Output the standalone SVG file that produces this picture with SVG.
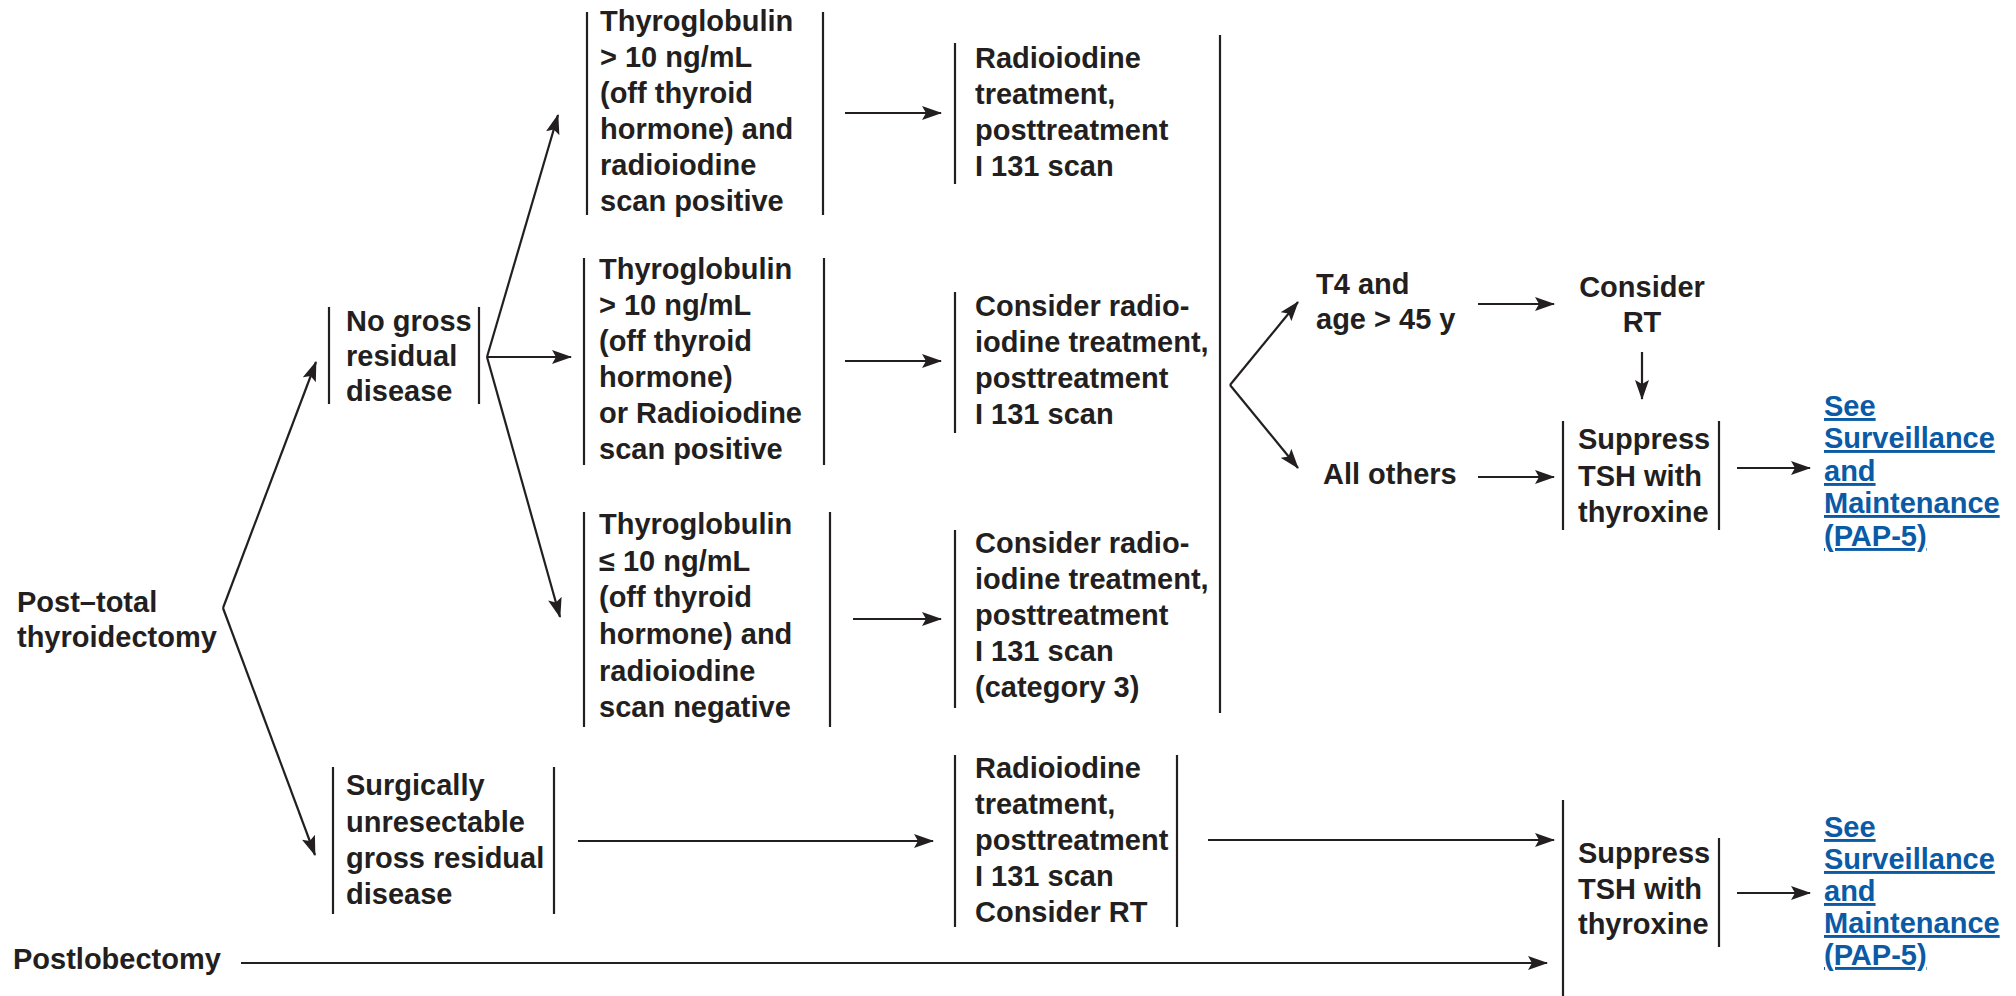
<svg xmlns="http://www.w3.org/2000/svg" width="2016" height="996" viewBox="0 0 2016 996">
  <style>
    text { font-family: "Liberation Sans", Arial, Helvetica, sans-serif; font-weight: bold; font-size: 29px; fill: #231f20; }
    .link { fill: #0a5aa6; text-decoration: underline; }
    .bar { stroke: #231f20; stroke-width: 2.2; fill: none; }
    .edge { stroke: #231f20; stroke-width: 2.2; fill: none; marker-end: url(#head); }
    .plain { stroke: #231f20; stroke-width: 2.2; fill: none; }
  </style>
  <defs>
    <marker id="head" markerUnits="userSpaceOnUse" markerWidth="20" markerHeight="14" refX="19" refY="7" orient="auto">
      <path d="M0,0 L20,7 L0,14 L4,7 z" fill="#231f20"/>
    </marker>
  </defs>
  <rect width="2016" height="996" fill="#ffffff"/>

  <!-- entry points -->
  <g id="post-total">
    <text x="17" y="612">Post–total</text>
    <text x="17" y="647">thyroidectomy</text>
  </g>
  <g id="postlobectomy">
    <text x="13" y="969">Postlobectomy</text>
  </g>

  <!-- residual disease status -->
  <g id="no-gross">
    <line class="bar" x1="329" y1="307" x2="329" y2="404"/>
    <line class="bar" x1="479" y1="307" x2="479" y2="404"/>
    <text x="346" y="331">No gross</text>
    <text x="346" y="366">residual</text>
    <text x="346" y="401">disease</text>
  </g>
  <g id="unresectable">
    <line class="bar" x1="333" y1="767" x2="333" y2="914"/>
    <line class="bar" x1="554" y1="767" x2="554" y2="914"/>
    <text x="346" y="795">Surgically</text>
    <text x="346" y="832">unresectable</text>
    <text x="346" y="868">gross residual</text>
    <text x="346" y="904">disease</text>
  </g>

  <!-- thyroglobulin / scan results -->
  <g id="tg-high-and">
    <line class="bar" x1="587" y1="12" x2="587" y2="215"/>
    <line class="bar" x1="823" y1="12" x2="823" y2="215"/>
    <text x="600" y="31">Thyroglobulin</text>
    <text x="600" y="67">&gt; 10 ng/mL</text>
    <text x="600" y="103">(off thyroid</text>
    <text x="600" y="139">hormone) and</text>
    <text x="600" y="175">radioiodine</text>
    <text x="600" y="211">scan positive</text>
  </g>
  <g id="tg-high-or">
    <line class="bar" x1="584" y1="258" x2="584" y2="465"/>
    <line class="bar" x1="824" y1="258" x2="824" y2="465"/>
    <text x="599" y="279">Thyroglobulin</text>
    <text x="599" y="315">&gt; 10 ng/mL</text>
    <text x="599" y="351">(off thyroid</text>
    <text x="599" y="387">hormone)</text>
    <text x="599" y="423">or Radioiodine</text>
    <text x="599" y="459">scan positive</text>
  </g>
  <g id="tg-low">
    <line class="bar" x1="584" y1="512" x2="584" y2="727"/>
    <line class="bar" x1="830" y1="512" x2="830" y2="727"/>
    <text x="599" y="534">Thyroglobulin</text>
    <text x="599" y="571">≤ 10 ng/mL</text>
    <text x="599" y="607">(off thyroid</text>
    <text x="599" y="644">hormone) and</text>
    <text x="599" y="681">radioiodine</text>
    <text x="599" y="717">scan negative</text>
  </g>

  <!-- treatments -->
  <g id="rai-treatment">
    <line class="bar" x1="955" y1="43" x2="955" y2="184"/>
    <text x="975" y="68">Radioiodine</text>
    <text x="975" y="104">treatment,</text>
    <text x="975" y="140">posttreatment</text>
    <text x="975" y="176">I 131 scan</text>
  </g>
  <g id="consider-rai">
    <line class="bar" x1="955" y1="292" x2="955" y2="433"/>
    <text x="975" y="316">Consider radio-</text>
    <text x="975" y="352">iodine treatment,</text>
    <text x="975" y="388">posttreatment</text>
    <text x="975" y="424">I 131 scan</text>
  </g>
  <g id="consider-rai-cat3">
    <line class="bar" x1="955" y1="530" x2="955" y2="708"/>
    <text x="975" y="553">Consider radio-</text>
    <text x="975" y="589">iodine treatment,</text>
    <text x="975" y="625">posttreatment</text>
    <text x="975" y="661">I 131 scan</text>
    <text x="975" y="697">(category 3)</text>
  </g>
  <g id="rai-consider-rt">
    <line class="bar" x1="955" y1="755" x2="955" y2="927"/>
    <line class="bar" x1="1177" y1="755" x2="1177" y2="927"/>
    <text x="975" y="778">Radioiodine</text>
    <text x="975" y="814">treatment,</text>
    <text x="975" y="850">posttreatment</text>
    <text x="975" y="886">I 131 scan</text>
    <text x="975" y="922">Consider RT</text>
  </g>
  <g id="treatment-bracket">
    <line class="bar" x1="1220" y1="35" x2="1220" y2="713"/>
  </g>

  <!-- risk groups -->
  <g id="t4-age">
    <text x="1316" y="294">T4 and</text>
    <text x="1316" y="329">age &gt; 45 y</text>
  </g>
  <g id="all-others">
    <text x="1323" y="484">All others</text>
  </g>
  <g id="consider-rt">
    <text x="1642" y="297" text-anchor="middle">Consider</text>
    <text x="1642" y="332" text-anchor="middle">RT</text>
  </g>

  <!-- TSH suppression -->
  <g id="suppress-tsh-1">
    <line class="bar" x1="1563" y1="421" x2="1563" y2="530"/>
    <line class="bar" x1="1719" y1="421" x2="1719" y2="530"/>
    <text x="1578" y="449">Suppress</text>
    <text x="1578" y="486">TSH with</text>
    <text x="1578" y="522">thyroxine</text>
  </g>
  <g id="suppress-tsh-2">
    <line class="bar" x1="1563" y1="800" x2="1563" y2="996"/>
    <line class="bar" x1="1719" y1="838" x2="1719" y2="947"/>
    <text x="1578" y="863">Suppress</text>
    <text x="1578" y="899">TSH with</text>
    <text x="1578" y="934">thyroxine</text>
  </g>

  <!-- follow-up references -->
  <g id="surveillance-1">
    <text class="link" x="1824" y="416">See</text>
    <text class="link" x="1824" y="448">Surveillance</text>
    <text class="link" x="1824" y="481">and</text>
    <text class="link" x="1824" y="513">Maintenance</text>
    <text class="link" x="1824" y="546">(PAP-5)</text>
  </g>
  <g id="surveillance-2">
    <text class="link" x="1824" y="837">See</text>
    <text class="link" x="1824" y="869">Surveillance</text>
    <text class="link" x="1824" y="901">and</text>
    <text class="link" x="1824" y="933">Maintenance</text>
    <text class="link" x="1824" y="965">(PAP-5)</text>
  </g>

  <!-- connectors -->
  <g id="connectors">
    <line class="edge" x1="223" y1="608" x2="316" y2="362"/>
    <line class="edge" x1="223" y1="608" x2="315" y2="855"/>

    <line class="edge" x1="487" y1="357" x2="558" y2="115"/>
    <line class="edge" x1="487" y1="357" x2="571" y2="357"/>
    <line class="edge" x1="487" y1="357" x2="560" y2="617"/>

    <line class="edge" x1="845" y1="113" x2="941" y2="113"/>
    <line class="edge" x1="845" y1="361" x2="941" y2="361"/>
    <line class="edge" x1="853" y1="619" x2="941" y2="619"/>

    <line class="edge" x1="1230" y1="385" x2="1298" y2="302"/>
    <line class="edge" x1="1230" y1="385" x2="1298" y2="468"/>

    <line class="edge" x1="1478" y1="304" x2="1554" y2="304"/>
    <line class="edge" x1="1642" y1="352" x2="1642" y2="399"/>
    <line class="edge" x1="1478" y1="477" x2="1554" y2="477"/>
    <line class="edge" x1="1737" y1="468" x2="1810" y2="468"/>

    <line class="edge" x1="578" y1="841" x2="933" y2="841"/>
    <line class="edge" x1="1208" y1="840" x2="1554" y2="840"/>
    <line class="edge" x1="241" y1="963" x2="1547" y2="963"/>
    <line class="edge" x1="1737" y1="893" x2="1810" y2="893"/>
  </g>
</svg>
